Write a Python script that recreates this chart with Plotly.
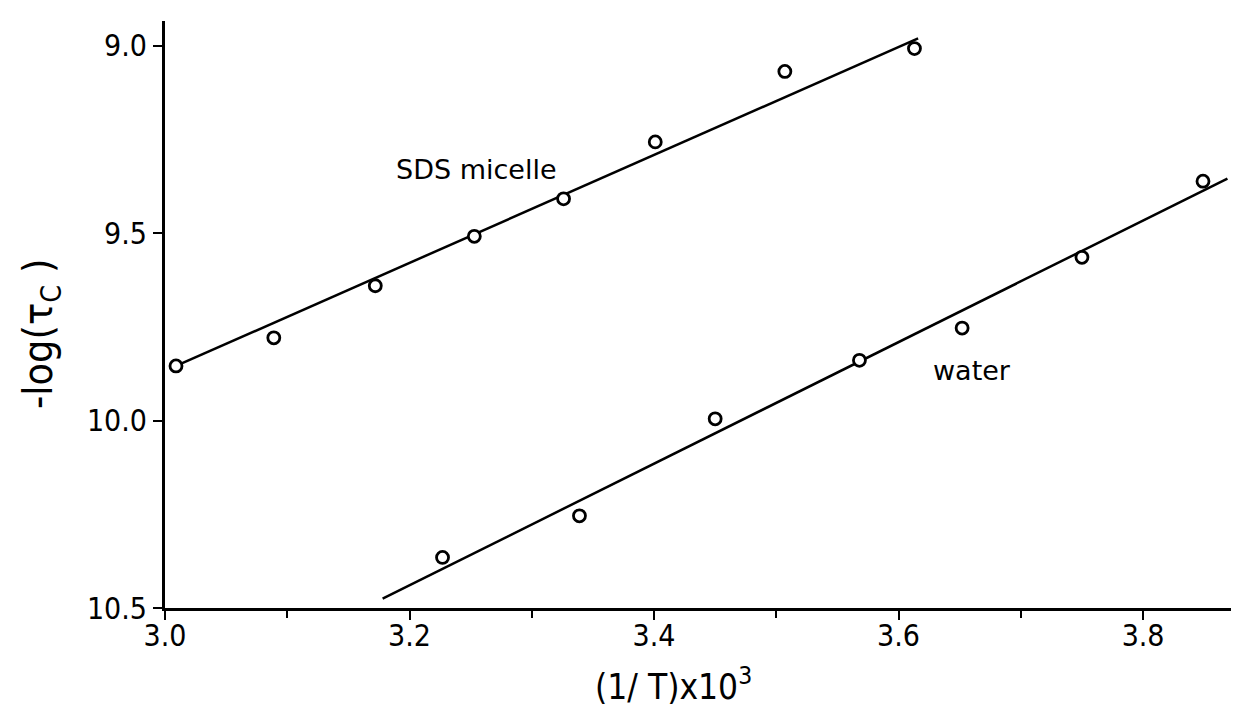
import plotly.graph_objects as go

# ---- data ----
sds_x = [3.009, 3.089, 3.172, 3.253, 3.326, 3.401, 3.507, 3.613]
sds_y = [9.854, 9.779, 9.640, 9.508, 9.408, 9.256, 9.068, 9.007]
sds_fit_x = [3.009, 3.616]
sds_fit_y = [9.854, 8.980]

water_x = [3.227, 3.339, 3.450, 3.568, 3.652, 3.750, 3.849]
water_y = [10.365, 10.254, 9.995, 9.839, 9.753, 9.564, 9.361]
water_fit_x = [3.178, 3.869]
water_fit_y = [10.475, 9.354]

x_tickvals = [3.0, 3.2, 3.4, 3.6, 3.8]
x_ticktext = ["3.0", "3.2", "3.4", "3.6", "3.8"]
x_minorvals = [3.1, 3.3, 3.5, 3.7]
y_tickvals = [9.0, 9.5, 10.0, 10.5]
y_ticktext = ["9.0", "9.5", "10.0", "10.5"]

label_sds = "SDS micelle"
label_water = "water"
x_title = "(1/ T)x10<sup>3</sup>"
y_title = "-log(τ<sub>C</sub> )"

NARROW = "Liberation Sans Narrow, DejaVu Sans Condensed, Liberation Sans, Arial, sans-serif"
PLAIN = "DejaVu Sans, Liberation Sans, sans-serif"

fig = go.Figure()

for fx, fy in [(sds_fit_x, sds_fit_y), (water_fit_x, water_fit_y)]:
    fig.add_trace(go.Scatter(x=fx, y=fy, mode="lines",
                             line=dict(color="black", width=2.5),
                             showlegend=False, hoverinfo="skip"))

for px, py in [(sds_x, sds_y), (water_x, water_y)]:
    fig.add_trace(go.Scatter(x=px, y=py, mode="markers",
                             marker=dict(symbol="circle", size=12, color="white",
                                         line=dict(color="black", width=2.8)),
                             showlegend=False))

fig.update_layout(
    width=1239, height=708,
    margin=dict(l=157, r=0, t=13, b=108),
    paper_bgcolor="white", plot_bgcolor="white",
    showlegend=False,
    xaxis=dict(range=[3.0, 3.885], showgrid=False, zeroline=False,
               showline=True, linecolor="black", linewidth=3,
               ticks="outside", ticklen=9, tickwidth=2, tickcolor="black",
               tickmode="array", tickvals=x_tickvals, ticktext=x_ticktext,
               ticklabelstandoff=-10,
               tickfont=dict(family=NARROW, size=30, color="black"),
               minor=dict(tickmode="array", tickvals=x_minorvals, ticks="outside",
                          ticklen=7, tickwidth=2, tickcolor="black", showgrid=False)),
    yaxis=dict(range=[10.5, 8.9334], showgrid=False, zeroline=False,
               showline=True, linecolor="black", linewidth=3,
               ticks="outside", ticklen=9, tickwidth=2, tickcolor="black",
               tickmode="array", tickvals=y_tickvals, ticktext=y_ticktext,
               tickfont=dict(family=NARROW, size=30, color="black")),
    annotations=[
        dict(text=label_sds, x=3.2544, y=9.331, xref="x", yref="y",
             xanchor="center", yanchor="middle",
             showarrow=False, font=dict(family=PLAIN, size=27, color="black")),
        dict(text=label_water, x=3.660, y=9.865, xref="x", yref="y",
             xanchor="center", yanchor="middle",
             showarrow=False, font=dict(family=PLAIN, size=27, color="black")),
        dict(text=x_title, x=(665 - 157) / 1082, y=(600 - 701) / 587,
             xref="paper", yref="paper", showarrow=False,
             xanchor="center", yanchor="bottom",
             font=dict(family=NARROW, size=35, color="black")),
        dict(text=y_title, x=(33 - 157) / 1082, y=(600 - 326) / 587,
             xref="paper", yref="paper", showarrow=False, textangle=-90,
             xanchor="center", yanchor="middle",
             font=dict(family=NARROW, size=41, color="black")),
    ],
)

fig.write_html("out.html")
